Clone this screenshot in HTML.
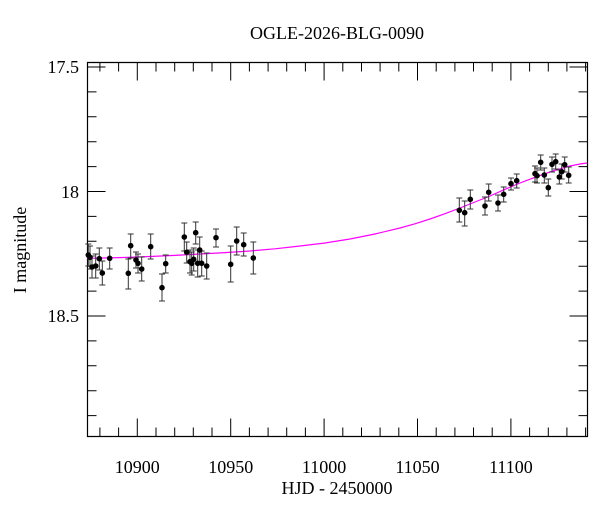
<!DOCTYPE html>
<html><head><meta charset="utf-8"><style>
html,body{margin:0;padding:0;background:#fff;}
svg text{font-family:"Liberation Serif","DejaVu Serif",serif;fill:#000;}
</style></head><body>
<svg width="600" height="512" viewBox="0 0 600 512" xmlns="http://www.w3.org/2000/svg">
<rect width="600" height="512" fill="#fff"/>
<text x="337" y="39" font-size="18" text-anchor="middle">OGLE-2026-BLG-0090</text>
<text x="337" y="494" font-size="18" text-anchor="middle">HJD - 2450000</text>
<text transform="translate(26,250) rotate(-90)" font-size="18" text-anchor="middle">I magnitude</text>
<g font-size="18" text-anchor="middle">
<text x="137.3" y="473">10900</text>
<text x="230.7" y="473">10950</text>
<text x="324.1" y="473">11000</text>
<text x="417.5" y="473">11050</text>
<text x="510.9" y="473">11100</text>
</g>
<g font-size="18" text-anchor="end">
<text x="79" y="73">17.5</text>
<text x="79" y="198">18</text>
<text x="79" y="322">18.5</text>
</g>
<g stroke="#000" stroke-width="1" fill="none">
<path d="M99.9,436.5v-9M118.6,436.5v-9M137.3,436.5v-18M156,436.5v-9M174.7,436.5v-9M193.3,436.5v-9M212,436.5v-9M230.7,436.5v-18M249.4,436.5v-9M268.1,436.5v-9M286.7,436.5v-9M305.4,436.5v-9M324.1,436.5v-18M342.8,436.5v-9M361.5,436.5v-9M380.1,436.5v-9M398.8,436.5v-9M417.5,436.5v-18M436.2,436.5v-9M454.9,436.5v-9M473.5,436.5v-9M492.2,436.5v-9M510.9,436.5v-18M529.6,436.5v-9M548.3,436.5v-9M566.9,436.5v-9M585.6,436.5v-9"/>
<path d="M99.9,62.5v9M118.6,62.5v9M137.3,62.5v18M156,62.5v9M174.7,62.5v9M193.3,62.5v9M212,62.5v9M230.7,62.5v18M249.4,62.5v9M268.1,62.5v9M286.7,62.5v9M305.4,62.5v9M324.1,62.5v18M342.8,62.5v9M361.5,62.5v9M380.1,62.5v9M398.8,62.5v9M417.5,62.5v18M436.2,62.5v9M454.9,62.5v9M473.5,62.5v9M492.2,62.5v9M510.9,62.5v18M529.6,62.5v9M548.3,62.5v9M566.9,62.5v9M585.6,62.5v9"/>
<path d="M87.5,67h18M87.5,91.9h9M87.5,116.8h9M87.5,141.7h9M87.5,166.6h9M87.5,191.5h18M87.5,216.4h9M87.5,241.3h9M87.5,266.2h9M87.5,291.1h9M87.5,316h18M87.5,340.9h9M87.5,365.8h9M87.5,390.7h9M87.5,415.6h9"/>
<path d="M587.5,67h-18M587.5,91.9h-9M587.5,116.8h-9M587.5,141.7h-9M587.5,166.6h-9M587.5,191.5h-18M587.5,216.4h-9M587.5,241.3h-9M587.5,266.2h-9M587.5,291.1h-9M587.5,316h-18M587.5,340.9h-9M587.5,365.8h-9M587.5,390.7h-9M587.5,415.6h-9"/>
</g>
<path d="M87.5,62.5 H587.5 V436.5 H87.5 Z" fill="none" stroke="#000" stroke-width="1.2"/>
<path d="M87,258.3 L120,257.6 L150,256.5 L175,255.4 L200,254 L225,252.6 L250,251 L275,248.8 L300,246 L325,243 L350,239 L375,234 L400,228 L415,223.8 L430,219 L445,213.7 L460,208 L475,202 L490,196 L505,189.3 L520,183 L535,177.3 L550,172 L560,168.8 L570,166 L580,164 L587,163" stroke="#ff00ff" fill="none" stroke-width="1.2"/>
<g stroke="#333" stroke-width="1" fill="none">
<path d="M88.3,244V266M85.3,244h6M85.3,266h6M90,246V269M87,246h6M87,269h6M92,256V278M89,256h6M89,278h6M95.7,254V278M92.7,254h6M92.7,278h6M99.3,248V270M96.3,248h6M96.3,270h6M102.3,261V285M99.3,261h6M99.3,285h6M109.7,248V269M106.7,248h6M106.7,269h6M128.3,259V289M125.3,259h6M125.3,289h6M130.7,234V258M127.7,234h6M127.7,258h6M136,252V268M133,252h6M133,268h6M138,254V273M135,254h6M135,273h6M141.7,257V281M138.7,257h6M138.7,281h6M150.7,234V259M147.7,234h6M147.7,259h6M162,274V301M159,274h6M159,301h6M165.7,255V273M162.7,255h6M162.7,273h6M184.3,223V251M181.3,223h6M181.3,251h6M186.7,242V263M183.7,242h6M183.7,263h6M190,250V273M187,250h6M187,273h6M191.7,252V275M188.7,252h6M188.7,275h6M193.7,248V271M190.7,248h6M190.7,271h6M195.7,222V244M192.7,222h6M192.7,244h6M197.7,250V277M194.7,250h6M194.7,277h6M199.7,237V263M196.7,237h6M196.7,263h6M201.7,251V276M198.7,251h6M198.7,276h6M206.7,253V279M203.7,253h6M203.7,279h6M216,229V247M213,229h6M213,247h6M230.7,246V282M227.7,246h6M227.7,282h6M236.7,227V255M233.7,227h6M233.7,255h6M243.7,233V256M240.7,233h6M240.7,256h6M253.3,242V274M250.3,242h6M250.3,274h6M459.3,198V222M456.3,198h6M456.3,222h6M464.7,201V226M461.7,201h6M461.7,226h6M470.3,190V209M467.3,190h6M467.3,209h6M485,197V215M482,197h6M482,215h6M488.7,184V201M485.7,184h6M485.7,201h6M498,195V211M495,195h6M495,211h6M503.7,187V202M500.7,187h6M500.7,202h6M511,178V190M508,178h6M508,190h6M516.7,174V188M513.7,174h6M513.7,188h6M535,166V182M532,166h6M532,182h6M537,168V183M534,168h6M534,183h6M540.7,155V170M537.7,155h6M537.7,170h6M544.3,168V183M541.3,168h6M541.3,183h6M548.3,179V196M545.3,179h6M545.3,196h6M552,157V172M549,157h6M549,172h6M555.7,154V169M552.7,154h6M552.7,169h6M559.3,170V184M556.3,170h6M556.3,184h6M561.7,164V179M558.7,164h6M558.7,179h6M564.7,157V172M561.7,157h6M561.7,172h6M568.7,167V183M565.7,167h6M565.7,183h6"/>
</g>
<g fill="#000">
<circle cx="88.3" cy="255" r="2.8"/><circle cx="90" cy="257.3" r="2.8"/><circle cx="92" cy="267" r="2.8"/><circle cx="95.7" cy="266" r="2.8"/><circle cx="99.3" cy="258.7" r="2.8"/><circle cx="102.3" cy="273" r="2.8"/><circle cx="109.7" cy="258.3" r="2.8"/><circle cx="128.3" cy="273.3" r="2.8"/><circle cx="130.7" cy="245.7" r="2.8"/><circle cx="136" cy="260" r="2.8"/><circle cx="138" cy="263.3" r="2.8"/><circle cx="141.7" cy="269" r="2.8"/><circle cx="150.7" cy="246.7" r="2.8"/><circle cx="162" cy="287.7" r="2.8"/><circle cx="165.7" cy="263.7" r="2.8"/><circle cx="184.3" cy="237" r="2.8"/><circle cx="186.7" cy="252.3" r="2.8"/><circle cx="190" cy="261.7" r="2.8"/><circle cx="191.7" cy="263.3" r="2.8"/><circle cx="193.7" cy="259.3" r="2.8"/><circle cx="195.7" cy="232.7" r="2.8"/><circle cx="197.7" cy="263.3" r="2.8"/><circle cx="199.7" cy="250" r="2.8"/><circle cx="201.7" cy="263.3" r="2.8"/><circle cx="206.7" cy="266" r="2.8"/><circle cx="216" cy="237.7" r="2.8"/><circle cx="230.7" cy="264.3" r="2.8"/><circle cx="236.7" cy="241" r="2.8"/><circle cx="243.7" cy="244.7" r="2.8"/><circle cx="253.3" cy="258" r="2.8"/>
<circle cx="459.3" cy="210.3" r="2.8"/><circle cx="464.7" cy="212.7" r="2.8"/><circle cx="470.3" cy="199.3" r="2.8"/><circle cx="485" cy="206" r="2.8"/><circle cx="488.7" cy="192.3" r="2.8"/><circle cx="498" cy="203" r="2.8"/><circle cx="503.7" cy="194.3" r="2.8"/><circle cx="511" cy="183.7" r="2.8"/><circle cx="516.7" cy="180.7" r="2.8"/><circle cx="535" cy="173.7" r="2.8"/><circle cx="537" cy="175.7" r="2.8"/><circle cx="540.7" cy="162.3" r="2.8"/><circle cx="544.3" cy="175" r="2.8"/><circle cx="548.3" cy="187.7" r="2.8"/><circle cx="552" cy="164.3" r="2.8"/><circle cx="555.7" cy="161.7" r="2.8"/><circle cx="559.3" cy="177" r="2.8"/><circle cx="561.7" cy="171.7" r="2.8"/><circle cx="564.7" cy="164.7" r="2.8"/><circle cx="568.7" cy="175.3" r="2.8"/>
</g>
</svg>
</body></html>
